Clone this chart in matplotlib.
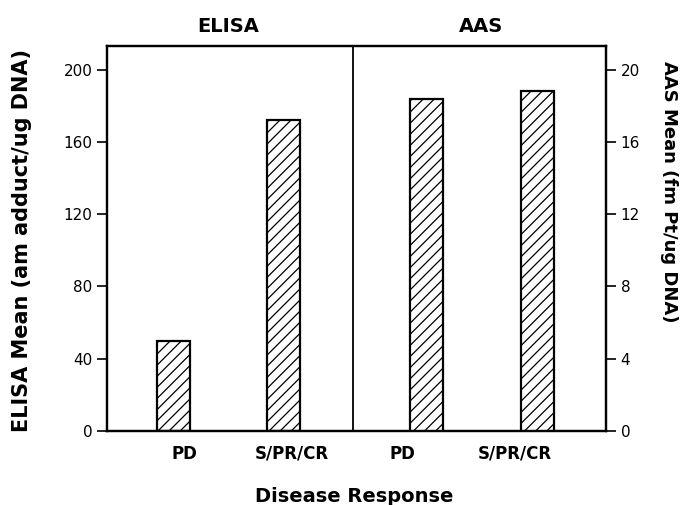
import matplotlib
matplotlib.use("Agg")
import matplotlib.pyplot as plt

categories = ["PD", "S/PR/CR", "PD", "S/PR/CR"]
elisa_values = [50, 172]
aas_values = [18.4, 18.8]
left_ticks = [0, 40, 80, 120, 160, 200]
right_ticks = [0, 4, 8, 12, 16, 20]

plt.rcParams['font.family'] = ['DejaVu Sans']
plt.rcParams['hatch.linewidth'] = 0.9

fig = plt.figure(figsize=(6.81, 5.05), dpi=100)
ax = fig.add_axes([0.157, 0.1465, 0.733, 0.762])
ax2 = ax.twinx()

pos_elisa = [0.134, 0.354]
pos_aas = [0.641, 0.862]
label_pos = [0.156, 0.371, 0.593, 0.818]
w = 0.066

ax.bar(pos_elisa, elisa_values, width=w, color='white', edgecolor='black',
       hatch='///', linewidth=1.6)
ax2.bar(pos_aas, aas_values, width=w, color='white', edgecolor='black',
        hatch='///', linewidth=1.6)

ax.set_xlim(0, 1)
ax.set_ylim(0, 213)
ax2.set_ylim(0, 21.3)
ax.axvline(0.493, color='black', linewidth=1.3)

ax.set_yticks(left_ticks)
ax2.set_yticks(right_ticks)
ax.set_xticks(label_pos)
ax.set_xticklabels(categories, fontsize=12, fontweight='bold')
ax.tick_params(axis='x', length=0, pad=10)
ax.tick_params(axis='y', direction='out', length=7, width=1.2, labelsize=11)
ax2.tick_params(axis='y', direction='out', length=7, width=1.2, labelsize=11)

for a in (ax, ax2):
    for s in a.spines.values():
        s.set_linewidth(1.6)

ax.set_ylabel("ELISA Mean (am adduct/ug DNA)", fontsize=15, fontweight='bold', va='center')
ax.yaxis.set_label_coords(-0.171, 0.496)
ax2.set_ylabel("AAS Mean (fm Pt/ug DNA)", fontsize=13, fontweight='bold', rotation=-90, va='center')
ax2.yaxis.set_label_coords(1.127, 0.623)
ax.set_xlabel("Disease Response", fontsize=14, fontweight='bold', va='center')
ax.xaxis.set_label_coords(0.495, -0.171)

ax.text(0.2425, 1.036, "ELISA", transform=ax.transAxes, ha='center', va='baseline', fontsize=14, fontweight='bold')
ax.text(0.75, 1.036, "AAS", transform=ax.transAxes, ha='center', va='baseline', fontsize=14, fontweight='bold')

fig.savefig("out.png", dpi=100)
